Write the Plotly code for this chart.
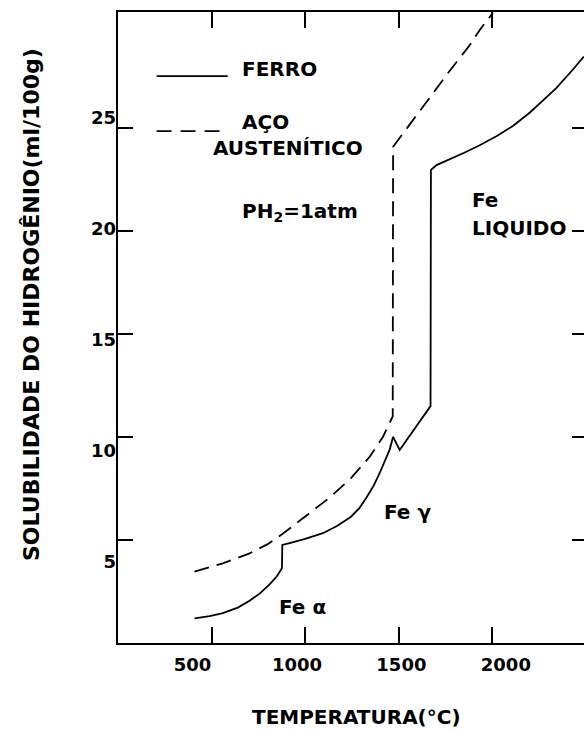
import plotly.graph_objects as go

# ---- data ----
ferro_temp = [409, 490, 560, 640, 703, 760, 810, 850, 876, 878, 917, 1000, 1095, 1170, 1245, 1290, 1327,
              1365, 1398, 1428, 1452, 1470, 1505, 1670, 1672, 1702, 1780, 1850, 1930, 2022, 2110, 2201,
              2290, 2343, 2432, 2489]
ferro_sol = [1.20, 1.30, 1.45, 1.72, 2.05, 2.42, 2.85, 3.25, 3.63, 4.76, 4.85, 5.05, 5.33, 5.68, 6.13, 6.55, 7.05,
             7.62, 8.24, 8.85, 9.40, 10.01, 9.37, 11.50, 22.96, 23.20, 23.50, 23.80, 24.15, 24.60, 25.10, 25.75,
             26.50, 26.95, 27.85, 28.46]

aco_temp = [409, 560, 703, 800, 880, 960, 1040, 1130, 1245, 1345, 1416, 1461, 1468, 1470, 1500, 1532, 1576,
            1630, 1683, 1755, 1826, 1880, 1933, 2004]
aco_sol = [3.46, 3.87, 4.35, 4.80, 5.30, 5.85, 6.40, 7.05, 8.00, 9.04, 10.01, 10.83, 11.00, 24.09, 24.45, 24.82, 25.39,
           26.03, 26.68, 27.57, 28.38, 29.03, 29.76, 30.60]

x_ticks = [500, 1000, 1500, 2000]
x_labels = ["500", "1000", "1500", "2000"]
y_ticks = [5, 10, 15, 20, 25]
y_labels = ["5", "10", "15", "20", "25"]

FONT = "DejaVu Sans"
BLACK = "black"

fig = go.Figure()
fig.add_trace(go.Scatter(x=ferro_temp, y=ferro_sol, mode="lines",
                         line=dict(color=BLACK, width=1.8), showlegend=False, hoverinfo="skip"))
fig.add_trace(go.Scatter(x=aco_temp, y=aco_sol, mode="lines",
                         line=dict(color=BLACK, width=1.8, dash="15px,8px"), showlegend=False, hoverinfo="skip"))
# empty helper traces so the extra (tick / label) axes get drawn
for xa, ya in (("x", "y2"), ("x2", "y"), ("x", "y3")):
    fig.add_trace(go.Scatter(x=[None], y=[None], xaxis=xa, yaxis=ya, mode="lines",
                             showlegend=False, hoverinfo="skip"))

tickfont = dict(family=FONT, size=18, color=BLACK, weight="bold")

fig.update_layout(
    width=584, height=731,
    margin=dict(l=118, r=0, t=12, b=88),
    paper_bgcolor="white", plot_bgcolor="white",
    showlegend=False,
    xaxis=dict(range=[0, 2490], showline=True, linecolor=BLACK, linewidth=2, mirror="ticks",
               ticks="inside", ticklen=16, tickwidth=1.5, tickcolor=BLACK, tickvals=x_ticks,
               showticklabels=False, showgrid=False, zeroline=False),
    yaxis=dict(range=[0, 30.63], showline=True, linecolor=BLACK, linewidth=2,
               ticks="inside", ticklen=15, tickwidth=1.5, tickcolor=BLACK, tickvals=y_ticks,
               showticklabels=False, showgrid=False, zeroline=False),
    yaxis2=dict(overlaying="y", side="right", anchor="x", range=[0, 30.63],
                ticks="inside", ticklen=12, tickwidth=1.5, tickcolor=BLACK, tickvals=y_ticks,
                showticklabels=False, showline=False, showgrid=False, zeroline=False),
    xaxis2=dict(overlaying="x", side="bottom", anchor="y", range=[143.6, 2374],
                tickvals=x_ticks, ticktext=x_labels, ticks="", showline=False, showgrid=False,
                zeroline=False, tickfont=tickfont, ticklabelstandoff=9),
    yaxis3=dict(overlaying="y", side="left", anchor="x", range=[1.35, 29.77],
                tickvals=y_ticks, ticktext=y_labels, ticks="", showline=False, showgrid=False,
                zeroline=False, tickfont=tickfont, ticklabelstandoff=1),
)

afont = dict(family=FONT, size=20, color=BLACK, weight="bold")

def note(text, x, y, **kw):
    fig.add_annotation(text=text, x=x, y=y, xref="x", yref="y", showarrow=False,
                       xanchor="left", yanchor="middle", font=afont, **kw)

note("FERRO", 650, 27.86)
note("AÇO", 650, 25.30)
note("AUSTENÍTICO", 495, 24.05)
note("PH<sub>2</sub>=1atm", 650, 20.9)
note("Fe", 1880, 21.5)
note("LIQUIDO", 1880, 20.15)
note("Fe γ", 1409, 6.36)
note("Fe α", 848, 1.75)

# legend keys
fig.add_shape(type="line", xref="x", yref="y", x0=206, x1=586, y0=27.52, y1=27.52,
              line=dict(color=BLACK, width=1.8))
fig.add_shape(type="line", xref="x", yref="y", x0=206, x1=586, y0=24.85, y1=24.85,
              line=dict(color=BLACK, width=1.8, dash="15px,9px"))

# axis titles
fig.add_annotation(text="SOLUBILIDADE DO HIDROGÊNIO(ml/100g)", xref="paper", yref="paper",
                   x=-0.1845, y=0.5357, textangle=-90, showarrow=False,
                   xanchor="center", yanchor="middle",
                   font=dict(family=FONT, size=22, color=BLACK, weight="bold"))
fig.add_annotation(text="TEMPERATURA(°C)", xref="paper", yref="paper",
                   x=0.511, y=-0.117, showarrow=False, xanchor="center", yanchor="middle",
                   font=dict(family=FONT, size=20, color=BLACK, weight="bold"))

fig.write_html("out.html", config={"displayModeBar": False},
               post_script="document.body.style.margin='0';")
